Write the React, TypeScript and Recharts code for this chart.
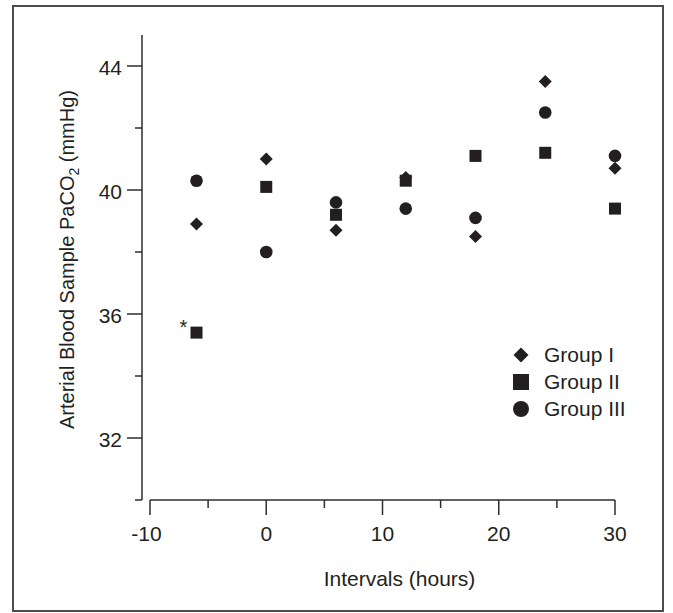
import { ScatterChart, Scatter, XAxis, YAxis, Legend, ReferenceLine } from "recharts";

// PaCO2 per group at each sampling interval (hours)
const hours = [-6, 0, 6, 12, 18, 24, 30];
const groupI = [38.9, 41.0, 38.7, 40.4, 38.5, 43.5, 40.7];
const groupII = [35.4, 40.1, 39.2, 40.3, 41.1, 41.2, 39.4];
const groupIII = [40.3, 38.0, 39.6, 39.4, 39.1, 42.5, 41.1];
const groupIINotes = ["*", "", "", "", "", "", ""];

const seriesNames = ["Group I", "Group II", "Group III"];

const xTicks = [-10, -5, 0, 5, 10, 15, 20, 25, 30];
const xLabeled = [-10, 0, 10, 20, 30];
const yTicks = [30, 32, 34, 36, 38, 40, 42, 44];
const yLabeled = [32, 36, 40, 44];

const INK = "#231f20";
const AXIS = "#2e2e2e";
const FONT = '"Liberation Sans", Arial, Helvetica, sans-serif';
const FS = 21;

// y axis sits a little left of the first x tick
const X_MIN = -10 - 8 / 11.625;

const toPoints = (values: number[], notes?: string[]) =>
  hours.map((h, i) => ({ hour: h, value: values[i], note: notes ? notes[i] : "" }));

const dataI = toPoints(groupI);
const dataII = toPoints(groupII, groupIINotes);
const dataIII = toPoints(groupIII);

function DiamondMark({ cx, cy }: any) {
  const r = 6.5;
  return (
    <polygon
      points={`${cx},${cy - r} ${cx + r},${cy} ${cx},${cy + r} ${cx - r},${cy}`}
      fill={INK}
    />
  );
}

function SquareMark({ cx, cy, payload }: any) {
  const s = 12;
  return (
    <g>
      <rect x={cx - s / 2} y={cy - s / 2} width={s} height={s} fill={INK} />
      {payload && payload.note ? (
        <text x={cx - 13} y={cy + 1} textAnchor="middle" fontSize={20} fontFamily={FONT} fill={INK}>
          {payload.note}
        </text>
      ) : null}
    </g>
  );
}

function CircleMark({ cx, cy }: any) {
  return <circle cx={cx} cy={cy} r={6.3} fill={INK} />;
}

function XTick({ x, y, payload }: any) {
  const v = payload.value;
  const major = xLabeled.includes(v);
  return (
    <g>
      <line x1={x} x2={x} y1={y} y2={y + (major ? 15 : 8)} stroke={AXIS} strokeWidth={1.5} />
      {major && (
        <text
          x={v < 0 ? x - 3.5 : x}
          y={y + 41}
          textAnchor="middle"
          fontSize={FS}
          fontFamily={FONT}
          fill={INK}
        >
          {v}
        </text>
      )}
    </g>
  );
}

function YTick({ x, y, payload }: any) {
  const v = payload.value;
  const major = yLabeled.includes(v);
  return (
    <g>
      <line x1={x - (major ? 15 : 7)} x2={x} y1={y} y2={y} stroke={AXIS} strokeWidth={1.5} />
      {major && (
        <text x={x - 20} y={y + 9} textAnchor="end" fontSize={FS} fontFamily={FONT} fill={INK}>
          {v}
        </text>
      )}
    </g>
  );
}

function XTitle({ viewBox }: any) {
  const cx = viewBox.x + viewBox.width / 2 + 21;
  return (
    <text x={cx} y={viewBox.y + 86} textAnchor="middle" fontSize={FS} fontFamily={FONT} fill={INK}>
      Intervals (hours)
    </text>
  );
}

function YTitle({ viewBox }: any) {
  const bx = viewBox.x + 42;
  const cy = viewBox.y + viewBox.height / 2 - 8;
  return (
    <text
      x={bx}
      y={cy}
      transform={`rotate(-90, ${bx}, ${cy})`}
      textAnchor="middle"
      fontSize={20}
      fontFamily={FONT}
      fill={INK}
    >
      Arterial Blood Sample PaCO
      <tspan fontSize={14} dy={5}>2</tspan>
      <tspan dy={-5}> (mmHg)</tspan>
    </text>
  );
}

const legendIcons = [
  <polygon key="d" points="8,0.5 15.5,8 8,15.5 0.5,8" fill={INK} />,
  <rect key="s" x={0} y={0} width={16} height={16} fill={INK} />,
  <circle key="c" cx={8} cy={8} r={8} fill={INK} />,
];

function LegendBox() {
  return (
    <div style={{ fontFamily: FONT, fontSize: FS, color: INK }}>
      {seriesNames.map((name, i) => (
        <div key={name} style={{ display: "flex", alignItems: "center", height: 27 }}>
          <svg width={16} height={16} style={{ display: "block" }}>
            {legendIcons[i]}
          </svg>
          <span style={{ marginLeft: 15, lineHeight: "27px" }}>{name}</span>
        </div>
      ))}
    </div>
  );
}

export default function App() {
  return (
    <>
      <div
        style={{
          position: "absolute",
          left: 12,
          top: 5,
          width: 652,
          height: 607,
          border: "2px solid #4d4d4d",
          boxSizing: "border-box",
        }}
      />
      <div style={{ position: "absolute", left: 0, top: 0, width: 673, height: 613 }}>
        <ScatterChart width={673} height={613} margin={{ top: 35, right: 58, bottom: 73, left: 32 }}>
          <XAxis
            type="number"
            dataKey="hour"
            domain={[X_MIN, 30]}
            ticks={xTicks}
            interval={0}
            tick={<XTick />}
            tickLine={false}
            axisLine={false}
            tickSize={0}
            tickMargin={0}
            height={40}
            label={{ content: <XTitle /> } as any}
          />
          <YAxis
            type="number"
            dataKey="value"
            domain={[30, 45]}
            ticks={yTicks}
            interval={0}
            tick={<YTick />}
            tickLine={false}
            axisLine={{ stroke: AXIS, strokeWidth: 1.5 }}
            tickSize={0}
            tickMargin={0}
            width={110}
            label={{ content: <YTitle /> } as any}
          />
          <ReferenceLine
            segment={[
              { x: -10, y: 30 },
              { x: 30, y: 30 },
            ]}
            stroke={AXIS}
            strokeWidth={1.5}
          />
          <Legend
            layout="vertical"
            align="center"
            verticalAlign="middle"
            content={<LegendBox />}
            wrapperStyle={{ left: 513, top: 341, width: 140 }}
          />
          <Scatter name={seriesNames[0]} data={dataI} fill={INK} shape={<DiamondMark />} isAnimationActive={false} />
          <Scatter name={seriesNames[1]} data={dataII} fill={INK} shape={<SquareMark />} isAnimationActive={false} />
          <Scatter name={seriesNames[2]} data={dataIII} fill={INK} shape={<CircleMark />} isAnimationActive={false} />
        </ScatterChart>
      </div>
    </>
  );
}
